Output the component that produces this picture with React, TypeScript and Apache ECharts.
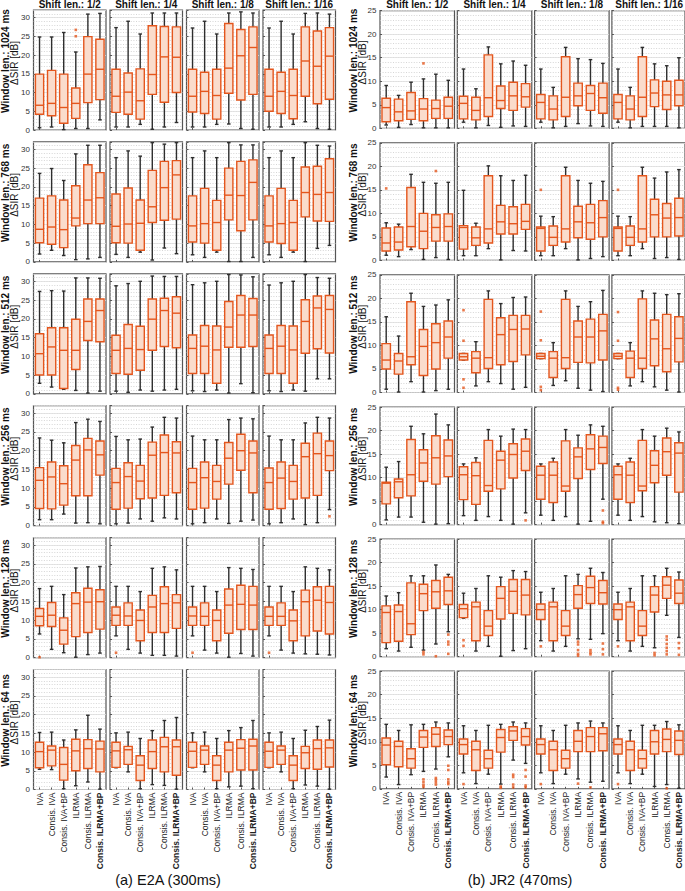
import React, { useEffect, useRef } from 'react';
import * as echarts from 'echarts';

const METHODS = ['IVA', 'Consis. IVA', 'Consis. IVA+BP', 'ILRMA', 'Consis. ILRMA', 'Consis. ILRMA+BP'];
const SHIFT_LABELS = ['Shift len.: 1/2', 'Shift len.: 1/4', 'Shift len.: 1/8', 'Shift len.: 1/16'];
const WINDOW_LABELS = ['Window len.: 1024 ms', 'Window len.: 768 ms', 'Window len.: 512 ms', 'Window len.: 256 ms', 'Window len.: 128 ms', 'Window len.: 64 ms'];
const Y_LABEL = '\u0394SIR [dB]';
const PANEL_TITLES = ['(a) E2A (300ms)', '(b) JR2 (470ms)'];
const E2A_Y_MAX = 32;
const JR2_Y_MAX = 25;
const Y_TICK_STEP = 5;

// each box: [min, q1, median, q3, max]; per shift length (1/2, 1/4, 1/8, 1/16), six methods
const E2A_W1024 = [
  [[0.6, 4.2, 6.6, 14.9, 24.8], [0.8, 3.8, 7.1, 15.9, 24.8], [0.1, 1.8, 6.0, 14.9, 26.0], [0.4, 3.1, 7.1, 11.2, 20.8], [0.4, 7.3, 14.9, 24.9, 30.9], [2.7, 8.1, 16.2, 24.2, 31.1]],
  [[0.8, 4.7, 9.0, 16.2, 27.3], [0.8, 4.2, 10.1, 15.2, 29.0], [1.5, 2.9, 7.8, 16.3, 25.6], [0.2, 9.5, 14.8, 27.8, 31.2], [0.8, 7.4, 19.5, 27.6, 31.2], [2.0, 10.0, 19.4, 27.5, 31.2]],
  [[0.8, 4.8, 9.0, 16.2, 27.2], [0.8, 4.4, 10.3, 15.4, 29.0], [1.5, 2.9, 9.2, 16.2, 25.6], [1.6, 9.8, 16.5, 28.4, 31.2], [0.4, 8.0, 19.8, 26.8, 31.5], [0.2, 9.5, 22.0, 27.5, 31.2]],
  [[0.8, 5.0, 9.0, 16.2, 27.2], [0.8, 4.4, 10.3, 15.4, 29.0], [1.5, 3.0, 9.2, 16.2, 25.6], [2.2, 9.0, 18.4, 27.5, 31.1], [0.4, 7.0, 17.0, 26.4, 31.2], [0.2, 8.2, 19.7, 27.3, 30.9]],
];
const E2A_W768 = [
  [[2.1, 5.1, 8.7, 17.0, 23.6], [3.1, 4.7, 9.3, 17.6, 24.9], [1.7, 3.8, 8.6, 16.5, 21.7], [0.6, 9.6, 11.7, 20.3, 28.8], [0.8, 10.2, 16.5, 25.9, 31.1], [1.2, 10.2, 17.1, 23.8, 31.1]],
  [[2.0, 5.1, 9.5, 18.1, 27.8], [1.2, 5.0, 10.1, 19.7, 29.6], [2.6, 3.1, 10.3, 16.5, 28.2], [0.5, 10.5, 14.7, 24.4, 31.8], [3.7, 11.1, 19.8, 26.8, 31.4], [2.2, 11.4, 23.2, 27.0, 31.8]],
  [[1.9, 5.3, 9.6, 17.6, 27.8], [1.2, 5.0, 10.2, 19.6, 29.6], [2.6, 3.1, 10.5, 16.4, 27.8], [0.1, 11.2, 17.8, 25.0, 31.8], [0.1, 8.3, 17.7, 26.8, 31.2], [1.2, 11.2, 21.2, 27.2, 31.2]],
  [[1.9, 5.3, 9.6, 17.6, 27.8], [1.2, 4.9, 10.2, 19.6, 29.6], [2.6, 3.1, 10.5, 16.4, 27.8], [0.1, 12.0, 18.5, 25.3, 31.8], [3.6, 10.9, 18.0, 25.5, 31.1], [4.4, 10.8, 18.5, 27.5, 30.9]],
];
const E2A_W512 = [
  [[2.8, 5.0, 10.7, 16.0, 27.3], [1.8, 5.0, 12.5, 17.6, 27.5], [1.2, 1.4, 11.6, 17.6, 27.4], [0.9, 6.5, 11.6, 19.9, 30.9], [0.2, 14.2, 19.3, 25.3, 30.9], [0.7, 13.9, 22.2, 25.3, 30.8]],
  [[0.7, 5.4, 11.6, 15.6, 28.8], [0.4, 5.2, 12.1, 18.5, 29.4], [1.0, 6.3, 11.8, 18.0, 30.0], [0.7, 11.6, 19.9, 25.3, 31.4], [1.0, 12.6, 22.2, 25.5, 31.3], [1.2, 12.3, 21.5, 25.9, 31.3]],
  [[0.8, 5.4, 12.1, 15.7, 29.1], [0.6, 5.4, 12.7, 18.2, 29.6], [1.0, 2.8, 11.7, 18.1, 30.0], [0.2, 12.4, 17.8, 24.6, 31.8], [2.7, 12.4, 21.0, 26.2, 31.7], [0.3, 12.6, 21.0, 25.4, 31.2]],
  [[0.8, 5.4, 12.1, 15.7, 29.0], [0.6, 5.4, 12.7, 18.2, 29.6], [1.0, 2.8, 11.7, 18.1, 30.0], [0.7, 10.8, 19.3, 25.1, 31.8], [4.0, 12.0, 22.9, 26.1, 31.0], [4.0, 10.9, 22.5, 26.2, 30.8]],
];
const E2A_W256 = [
  [[1.6, 4.6, 12.1, 15.5, 23.4], [1.6, 4.5, 13.0, 17.0, 22.8], [3.1, 5.5, 11.2, 16.0, 22.1], [0.7, 8.0, 17.5, 21.4, 27.5], [0.8, 8.0, 20.2, 23.3, 28.4], [0.5, 13.5, 18.9, 22.6, 27.8]],
  [[0.5, 4.4, 11.5, 15.3, 23.8], [0.7, 4.7, 13.1, 16.8, 22.9], [1.8, 7.2, 11.9, 16.1, 23.1], [1.2, 7.4, 18.8, 22.3, 26.3], [2.1, 8.1, 19.5, 24.2, 28.9], [1.8, 8.8, 19.4, 22.4, 28.7]],
  [[0.5, 4.4, 11.5, 15.3, 23.9], [0.8, 4.7, 12.8, 17.0, 22.9], [1.8, 7.1, 11.8, 16.1, 22.9], [0.6, 11.1, 18.0, 22.2, 28.3], [1.2, 14.8, 20.0, 24.4, 28.7], [1.5, 8.8, 19.4, 22.6, 28.5]],
  [[0.5, 4.4, 11.5, 15.4, 23.9], [0.8, 4.6, 12.7, 17.0, 22.9], [1.8, 7.1, 11.8, 16.1, 22.9], [0.3, 7.4, 18.4, 22.0, 27.4], [0.8, 8.1, 19.2, 24.7, 28.9], [4.3, 14.7, 18.7, 22.6, 28.7]],
];
const E2A_W128 = [
  [[6.3, 8.5, 11.0, 13.1, 18.4], [2.2, 8.3, 11.3, 14.7, 19.0], [1.3, 3.6, 7.3, 10.6, 16.8], [0.1, 5.6, 14.4, 17.3, 23.9], [0.8, 6.7, 14.8, 18.5, 24.2], [1.2, 7.6, 14.9, 18.1, 24.3]],
  [[5.8, 8.6, 11.3, 13.5, 19.0], [2.2, 8.6, 11.1, 14.6, 19.0], [1.2, 4.5, 9.9, 12.7, 17.6], [0.6, 6.7, 13.5, 16.6, 23.8], [0.6, 6.7, 14.4, 18.9, 24.2], [0.4, 7.8, 14.6, 16.8, 23.4]],
  [[5.8, 8.6, 11.1, 13.5, 19.0], [2.0, 8.6, 11.0, 14.6, 19.0], [1.2, 4.5, 9.9, 12.7, 17.6], [0.1, 6.5, 14.0, 18.3, 24.0], [1.1, 7.5, 14.2, 19.3, 23.8], [0.4, 7.5, 14.0, 19.0, 23.5]],
  [[5.8, 8.6, 11.0, 13.5, 19.0], [2.0, 8.6, 11.0, 14.6, 19.0], [1.2, 4.5, 9.8, 12.7, 17.6], [1.0, 5.8, 14.9, 18.0, 24.2], [0.9, 7.1, 15.3, 18.9, 23.8], [0.7, 6.3, 14.7, 19.0, 23.4]],
];
const E2A_W64 = [
  [[5.4, 5.8, 10.1, 12.6, 15.2], [5.3, 6.3, 10.5, 11.6, 15.3], [0.2, 2.5, 6.7, 11.2, 13.2], [1.0, 5.0, 10.3, 13.4, 15.9], [2.0, 5.6, 10.9, 13.3, 19.8], [0.1, 4.7, 10.8, 12.9, 16.1]],
  [[5.8, 5.9, 10.3, 12.6, 15.1], [4.7, 6.7, 10.6, 11.5, 15.3], [0.2, 2.4, 6.5, 9.0, 13.6], [1.3, 5.6, 10.1, 13.2, 15.7], [1.1, 4.7, 11.4, 13.9, 18.4], [0.1, 3.8, 11.4, 13.2, 19.2]],
  [[5.8, 5.9, 10.2, 12.6, 15.1], [4.7, 6.7, 10.5, 11.6, 15.3], [0.2, 2.4, 6.5, 9.0, 13.6], [0.7, 4.7, 10.5, 12.6, 15.7], [0.9, 5.2, 11.0, 13.3, 16.5], [0.2, 5.2, 11.6, 13.4, 18.4]],
  [[5.8, 5.9, 10.2, 12.6, 15.1], [4.7, 6.7, 10.5, 11.6, 15.3], [0.2, 2.4, 6.5, 9.0, 13.6], [1.2, 5.6, 9.8, 11.5, 15.8], [0.9, 5.4, 10.9, 13.2, 16.8], [0.1, 6.0, 11.1, 13.2, 18.5]],
];
// outliers: [row, shift column, method, value]
const E2A_OUTLIERS = [
  [0, 0, 3, 26.7], [0, 0, 3, 25.0],
  [3, 3, 5, 2.5],
  [4, 0, 0, 0.1], [4, 1, 0, 1.3], [4, 2, 0, 1.3], [4, 3, 0, 1.3],
];

const JR2_W1024 = [
  [[0.7, 1.4, 4.4, 6.4, 9.1], [0.2, 1.6, 3.5, 6.2, 7.0], [0.8, 1.9, 3.7, 7.6, 9.8], [0.1, 1.6, 4.1, 6.3, 10.5], [0.1, 2.1, 4.2, 6.0, 11.5], [0.1, 2.1, 4.7, 6.6, 10.2]],
  [[1.3, 2.0, 5.3, 6.8, 12.6], [0.1, 1.8, 3.8, 6.6, 8.4], [0.6, 2.5, 6.5, 15.6, 17.3], [0.2, 4.2, 5.9, 9.0, 13.7], [0.5, 3.8, 6.9, 9.8, 14.3], [0.4, 4.5, 6.7, 9.5, 13.4]],
  [[1.3, 2.0, 5.5, 7.2, 12.6], [0.1, 1.8, 4.1, 6.9, 8.7], [0.4, 2.5, 6.6, 15.2, 17.2], [1.0, 4.8, 6.9, 9.6, 14.8], [0.5, 3.8, 7.4, 9.1, 14.6], [0.4, 3.2, 6.5, 9.6, 13.8]],
  [[1.3, 2.0, 5.5, 7.2, 12.6], [0.1, 1.8, 4.1, 6.9, 8.7], [0.4, 2.5, 6.6, 15.2, 17.2], [0.4, 4.6, 7.5, 10.3, 13.7], [0.4, 4.0, 7.1, 10.0, 13.3], [0.1, 4.8, 7.1, 10.2, 15.0]],
];
const JR2_W768 = [
  [[1.1, 2.0, 3.7, 6.9, 8.0], [0.8, 2.2, 3.9, 7.1, 7.7], [2.3, 2.9, 7.2, 15.5, 18.3], [0.2, 2.5, 6.2, 10.0, 16.6], [0.6, 4.1, 7.0, 9.7, 16.4], [0.2, 4.1, 7.2, 9.9, 16.6]],
  [[1.0, 2.4, 7.0, 7.4, 14.9], [1.0, 3.2, 4.8, 7.1, 7.9], [2.5, 3.7, 6.7, 18.0, 20.1], [0.1, 5.6, 8.2, 11.7, 18.0], [2.1, 5.6, 7.8, 11.4, 17.0], [2.0, 6.6, 8.3, 11.9, 18.1]],
  [[1.0, 2.0, 6.8, 7.1, 9.4], [1.0, 3.2, 4.9, 7.3, 9.3], [2.5, 3.9, 6.7, 18.0, 19.8], [0.1, 4.8, 8.2, 11.5, 17.0], [0.4, 4.5, 8.0, 11.9, 16.4], [0.8, 5.0, 9.1, 12.7, 16.8]],
  [[1.0, 2.0, 6.8, 7.1, 9.4], [1.0, 3.2, 4.9, 7.3, 9.3], [2.5, 3.9, 6.7, 18.0, 19.8], [0.4, 5.0, 9.7, 13.0, 17.5], [0.6, 5.0, 9.0, 12.1, 18.8], [0.2, 5.2, 9.1, 13.2, 19.3]],
];
const JR2_W512 = [
  [[0.7, 5.0, 6.9, 10.4, 16.1], [0.1, 3.9, 6.7, 8.3, 12.0], [2.3, 5.9, 7.6, 19.3, 21.1], [0.1, 3.6, 9.8, 13.4, 18.3], [0.4, 5.0, 10.6, 14.6, 18.6], [0.7, 7.3, 11.8, 15.2, 19.7]],
  [[6.9, 6.9, 7.6, 8.3, 8.3], [1.4, 4.2, 7.3, 8.7, 10.8], [2.3, 5.1, 7.4, 19.8, 21.6], [1.9, 5.9, 12.3, 15.9, 18.9], [0.7, 6.6, 13.4, 16.4, 20.2], [1.1, 8.0, 13.5, 16.4, 20.3]],
  [[7.2, 7.2, 7.7, 8.3, 8.3], [1.5, 3.2, 7.3, 8.7, 10.6], [2.5, 5.1, 7.4, 19.8, 21.6], [0.9, 6.4, 11.8, 15.2, 18.3], [0.5, 6.3, 11.8, 15.6, 19.3], [0.2, 6.9, 13.1, 16.6, 21.7]],
  [[7.2, 7.2, 7.7, 8.3, 8.3], [1.4, 3.2, 7.3, 8.8, 10.6], [2.3, 5.1, 7.3, 19.9, 21.6], [1.2, 5.7, 11.4, 15.4, 21.1], [0.5, 4.4, 9.3, 16.6, 20.8], [0.1, 6.5, 11.5, 16.1, 21.0]],
];
const JR2_W256 = [
  [[1.0, 4.4, 8.8, 9.0, 12.2], [1.6, 5.7, 9.1, 9.7, 13.4], [1.6, 6.1, 10.6, 18.1, 20.9], [0.5, 9.2, 13.1, 15.9, 19.3], [0.1, 8.6, 14.2, 18.9, 23.5], [0.2, 10.2, 14.6, 18.0, 21.2]],
  [[1.9, 5.3, 10.6, 12.3, 12.9], [0.9, 4.3, 10.4, 13.2, 14.2], [1.7, 7.1, 8.3, 17.9, 20.2], [0.9, 7.6, 13.7, 15.6, 18.8], [0.1, 9.9, 14.9, 17.2, 20.3], [2.5, 11.5, 15.6, 18.2, 20.2]],
  [[2.0, 5.4, 10.5, 12.4, 12.9], [0.9, 4.7, 10.5, 13.3, 14.1], [1.7, 7.1, 8.2, 17.8, 20.2], [0.1, 9.8, 14.4, 16.3, 19.0], [0.7, 11.7, 16.1, 19.1, 21.2], [5.4, 13.0, 16.4, 18.8, 20.9]],
  [[2.0, 5.4, 10.6, 12.4, 12.9], [0.9, 4.7, 10.5, 13.3, 14.1], [1.7, 7.2, 8.2, 17.9, 20.2], [0.6, 8.9, 12.6, 15.7, 18.8], [0.4, 10.5, 15.5, 18.4, 20.5], [0.2, 6.9, 15.2, 17.4, 19.7]],
];
const JR2_W128 = [
  [[1.7, 3.0, 9.4, 10.8, 12.9], [1.2, 3.3, 9.6, 11.0, 13.6], [2.0, 4.7, 7.0, 15.7, 17.2], [1.4, 9.8, 13.4, 15.4, 17.2], [2.7, 10.3, 13.8, 16.2, 19.5], [5.3, 11.1, 14.0, 16.9, 17.5]],
  [[8.2, 8.3, 10.2, 11.1, 13.5], [1.2, 3.4, 10.6, 11.6, 14.5], [2.2, 4.5, 6.5, 9.8, 17.2], [0.1, 8.0, 12.4, 14.9, 16.9], [1.3, 9.2, 13.9, 16.4, 18.3], [1.7, 8.9, 13.1, 16.4, 18.1]],
  [[3.4, 7.9, 10.0, 11.2, 13.7], [1.2, 3.4, 10.6, 11.6, 14.5], [2.2, 4.5, 6.5, 9.8, 17.2], [3.8, 10.3, 13.2, 15.1, 17.5], [3.7, 11.3, 14.7, 17.1, 18.8], [4.9, 11.2, 13.6, 16.2, 17.9]],
  [[3.4, 7.9, 10.0, 11.2, 13.7], [1.2, 3.4, 10.6, 11.6, 14.5], [2.2, 4.5, 6.5, 9.8, 17.2], [1.9, 9.5, 13.1, 14.9, 17.2], [8.8, 12.4, 15.2, 17.0, 18.8], [4.1, 11.3, 13.5, 16.3, 18.0]],
];
const JR2_W64 = [
  [[2.5, 5.1, 9.3, 10.8, 13.7], [0.9, 4.7, 9.0, 10.1, 12.4], [3.0, 4.4, 6.4, 8.5, 13.6], [3.7, 8.8, 11.0, 12.4, 13.7], [4.2, 9.0, 11.6, 13.0, 14.2], [6.8, 9.4, 11.1, 12.5, 14.0]],
  [[3.4, 7.4, 9.4, 10.6, 13.4], [1.1, 3.9, 8.3, 10.1, 12.4], [3.1, 4.4, 6.4, 8.2, 13.5], [1.0, 7.8, 10.9, 12.6, 13.7], [6.1, 10.3, 12.3, 13.2, 14.2], [5.4, 9.3, 11.1, 12.8, 14.0]],
  [[3.4, 7.4, 9.4, 10.6, 13.4], [1.1, 3.9, 8.3, 10.1, 12.4], [3.1, 4.4, 6.4, 8.2, 13.5], [2.1, 7.9, 10.1, 12.4, 14.0], [1.4, 7.9, 11.1, 13.0, 14.4], [1.6, 8.1, 11.7, 13.0, 14.0]],
  [[3.4, 7.4, 9.4, 10.6, 13.4], [1.1, 3.9, 8.3, 10.1, 12.4], [3.1, 4.4, 6.4, 8.2, 13.5], [0.5, 7.4, 10.0, 12.4, 13.5], [0.9, 7.9, 10.5, 12.7, 14.3], [0.1, 7.3, 10.3, 12.3, 13.6]],
];
const JR2_OUTLIERS = [
  [0, 0, 3, 13.8],
  [1, 0, 0, 15.3], [1, 0, 4, 19.0], [1, 2, 0, 15.0], [1, 3, 0, 15.0],
  [2, 1, 0, 17.5], [2, 1, 0, 11.0], [2, 1, 0, 2.8], [2, 1, 0, 1.0],
  [2, 2, 0, 17.2], [2, 2, 0, 11.1], [2, 2, 0, 1.2], [2, 2, 0, 0.5],
  [2, 3, 0, 17.1], [2, 3, 0, 11.0], [2, 3, 0, 1.0], [2, 3, 0, 0.6],
  [3, 1, 5, 0.9], [3, 2, 5, 3.0], [3, 2, 5, 0.6], [3, 2, 5, 0.3],
  [4, 0, 3, 1.0], [4, 0, 3, 0.5], [4, 0, 4, 0.1], [4, 0, 5, 4.7], [4, 0, 5, 3.2], [4, 0, 5, 2.6], [4, 0, 5, 0.6],
  [4, 1, 0, 3.5], [4, 1, 0, 2.3],
  [4, 2, 0, 2.2], [4, 2, 3, 3.2], [4, 2, 3, 2.6], [4, 2, 3, 1.4], [4, 2, 3, 0.6], [4, 2, 3, 0.2],
  [4, 2, 4, 1.4], [4, 2, 4, 0.9], [4, 2, 4, 0.5], [4, 2, 5, 2.8], [4, 2, 5, 1.6], [4, 2, 5, 0.5],
  [4, 3, 0, 2.2], [4, 3, 3, 0.8], [4, 3, 3, 0.3], [4, 3, 4, 4.3], [4, 3, 4, 3.6], [4, 3, 4, 2.7],
  [4, 3, 4, 1.9], [4, 3, 4, 1.2], [4, 3, 4, 0.5], [4, 3, 5, 2.9], [4, 3, 5, 1.8], [4, 3, 5, 0.4],
  [5, 0, 3, 2.0], [5, 0, 3, 1.4], [5, 0, 3, 0.8], [5, 0, 3, 0.4], [5, 0, 4, 2.3], [5, 0, 4, 1.9],
  [5, 0, 4, 1.4], [5, 0, 4, 0.9], [5, 0, 5, 4.9], [5, 0, 5, 4.0], [5, 0, 5, 2.0], [5, 0, 5, 1.4], [5, 0, 5, 1.0],
  [5, 1, 0, 1.0], [5, 1, 3, 0.5], [5, 1, 3, 0.2], [5, 1, 4, 3.0], [5, 1, 4, 2.5], [5, 1, 4, 0.9], [5, 1, 4, 0.3],
  [5, 1, 5, 4.0], [5, 1, 5, 2.6], [5, 1, 5, 0.7], [5, 1, 5, 0.3],
  [5, 2, 0, 1.0], [5, 2, 3, 1.1], [5, 2, 4, 0.3],
  [5, 3, 0, 1.0], [5, 3, 4, 0.1],
];

const FONT = '"Liberation Sans", Arial, Helvetica, sans-serif';
const ORANGE = '#E4561D';
const FILL = '#FADCCC';
const WHISKER = '#2E2E2E';
const FRAME = '#555555';

export default function App() {
  const ref = useRef<HTMLDivElement>(null);

  useEffect(() => {
    document.body.style.margin = '0';
    if (!ref.current) return;
    const chart = echarts.init(ref.current, null, { renderer: 'svg' });

    const panels = [
      { rows: [E2A_W1024, E2A_W768, E2A_W512, E2A_W256, E2A_W128, E2A_W64], outliers: E2A_OUTLIERS, yMax: E2A_Y_MAX,
        lefts: [33.5, 110, 186.5, 263], w: 72.5, top0: 10, pitch: 131.9, h: 120,
        labelX: [5, 14.5], title: PANEL_TITLES[0], titleX: 168 },
      { rows: [JR2_W1024, JR2_W768, JR2_W512, JR2_W256, JR2_W128, JR2_W64], outliers: JR2_OUTLIERS, yMax: JR2_Y_MAX,
        lefts: [380, 457.3, 534.6, 611.9], w: 74.5, top0: 10.7, pitch: 132.1, h: 117.6,
        labelX: [353, 362.5], title: PANEL_TITLES[1], titleX: 520 },
    ];

    const grid: any[] = [];
    const xAxis: any[] = [];
    const yAxis: any[] = [];
    const series: any[] = [];
    const graphic: any[] = [];

    const renderBox = (params: any, api: any) => {
      const x = api.value(0);
      const band = api.size([1, 0])[0];
      const bw = band * 0.68;
      const pMin = api.coord([x, api.value(1)]);
      const pQ1 = api.coord([x, api.value(2)]);
      const pMed = api.coord([x, api.value(3)]);
      const pQ3 = api.coord([x, api.value(4)]);
      const pMax = api.coord([x, api.value(5)]);
      const cx = pMin[0];
      const cap = 1.8;
      const ws = { stroke: WHISKER, lineWidth: 1.4 };
      return {
        type: 'group',
        children: [
          { type: 'line', shape: { x1: cx, y1: pMin[1], x2: cx, y2: pMax[1] }, style: ws },
          { type: 'line', shape: { x1: cx - cap, y1: pMax[1], x2: cx + cap, y2: pMax[1] }, style: ws },
          { type: 'line', shape: { x1: cx - cap, y1: pMin[1], x2: cx + cap, y2: pMin[1] }, style: ws },
          { type: 'rect', shape: { x: cx - bw / 2, y: pQ3[1], width: bw, height: Math.max(pQ1[1] - pQ3[1], 0.5) },
            style: { fill: FILL, stroke: ORANGE, lineWidth: 1.4 } },
          { type: 'line', shape: { x1: cx - bw / 2, y1: pMed[1], x2: cx + bw / 2, y2: pMed[1] },
            style: { stroke: ORANGE, lineWidth: 1.4 } },
        ],
      };
    };

    let gi = 0;
    panels.forEach((p) => {
      p.rows.forEach((rowData, r) => {
        const top = p.top0 + r * p.pitch;
        rowData.forEach((boxes, c) => {
          const left = p.lefts[c];
          grid.push({ left, top, width: p.w, height: p.h, show: true, borderColor: FRAME, borderWidth: 1.2,
            backgroundColor: '#ffffff', containLabel: false });
          xAxis.push({
            gridIndex: gi, type: 'category', data: METHODS, boundaryGap: true,
            axisLine: { show: false },
            axisTick: { show: true, inside: true, length: 2, alignWithLabel: true, lineStyle: { color: FRAME } },
            splitLine: { show: false },
            axisLabel: r === 5 ? {
              show: true, rotate: 90, interval: 0, fontSize: 8.5, color: '#222', margin: 3, fontFamily: FONT,
              formatter: (v: string, i: number) => (i === 5 ? `{b|${v}}` : v),
              rich: { b: { fontWeight: 'bold', fontSize: 8.5, fontFamily: FONT, color: '#222' } },
            } : { show: false },
          });
          yAxis.push({
            gridIndex: gi, type: 'value', min: 0, max: p.yMax, interval: 1, position: 'left',
            axisLine: { show: false }, axisTick: { show: false }, axisLabel: { show: false },
            splitLine: { show: true, lineStyle: { color: '#c4c4c4', type: [1, 1.6], width: 0.7 } },
          });
          yAxis.push({
            gridIndex: gi, type: 'value', min: 0, max: p.yMax, interval: Y_TICK_STEP, position: 'left',
            axisLine: { show: false },
            axisTick: { show: true, inside: true, length: 2, lineStyle: { color: FRAME } },
            axisLabel: c === 0 ? { show: true, fontSize: 8, color: '#333', margin: 3.5, fontFamily: FONT,
              showMaxLabel: p.yMax % Y_TICK_STEP === 0 } : { show: false },
            splitLine: { show: true, lineStyle: { color: '#dedede', width: 0.8 } },
          });
          series.push({
            type: 'custom', xAxisIndex: gi, yAxisIndex: 2 * gi + 1,
            renderItem: renderBox,
            encode: { x: 0, y: [1, 2, 3, 4, 5] },
            data: boxes.map((b, i) => [i, ...b]),
            z: 3,
          });
          const outs = p.outliers.filter((o) => o[0] === r && o[1] === c).map((o) => [o[2], o[3]]);
          if (outs.length) {
            series.push({
              type: 'scatter', xAxisIndex: gi, yAxisIndex: 2 * gi + 1, data: outs,
              symbol: 'rect', symbolSize: 2.6, itemStyle: { color: ORANGE }, z: 4, silent: true,
            });
          }
          if (r === 0) {
            graphic.push({ type: 'text', x: left + p.w / 2, y: 4.5,
              style: { text: SHIFT_LABELS[c], fill: '#111', font: `bold 10px ${FONT}`, textAlign: 'center', textVerticalAlign: 'middle' } });
          }
          gi++;
        });
        const cy = top + p.h / 2;
        graphic.push({ type: 'text', x: p.labelX[0], y: cy - 9, rotation: Math.PI / 2,
          style: { text: WINDOW_LABELS[r], fill: '#111', font: `bold 10px ${FONT}`, textAlign: 'center', textVerticalAlign: 'middle' } });
        graphic.push({ type: 'text', x: p.labelX[1], y: cy - 7, rotation: Math.PI / 2,
          style: { text: Y_LABEL, fill: '#111', font: `10px ${FONT}`, textAlign: 'center', textVerticalAlign: 'middle' } });
      });
      graphic.push({ type: 'text', x: p.titleX, y: 880,
        style: { text: p.title, fill: '#111', font: `14.5px ${FONT}`, textAlign: 'center', textVerticalAlign: 'middle' } });
    });

    chart.setOption({
      animation: false,
      backgroundColor: '#ffffff',
      grid, xAxis, yAxis, series, graphic,
    });

    return () => chart.dispose();
  }, []);

  return <div ref={ref} style={{ width: 685, height: 891 }} />;
}
